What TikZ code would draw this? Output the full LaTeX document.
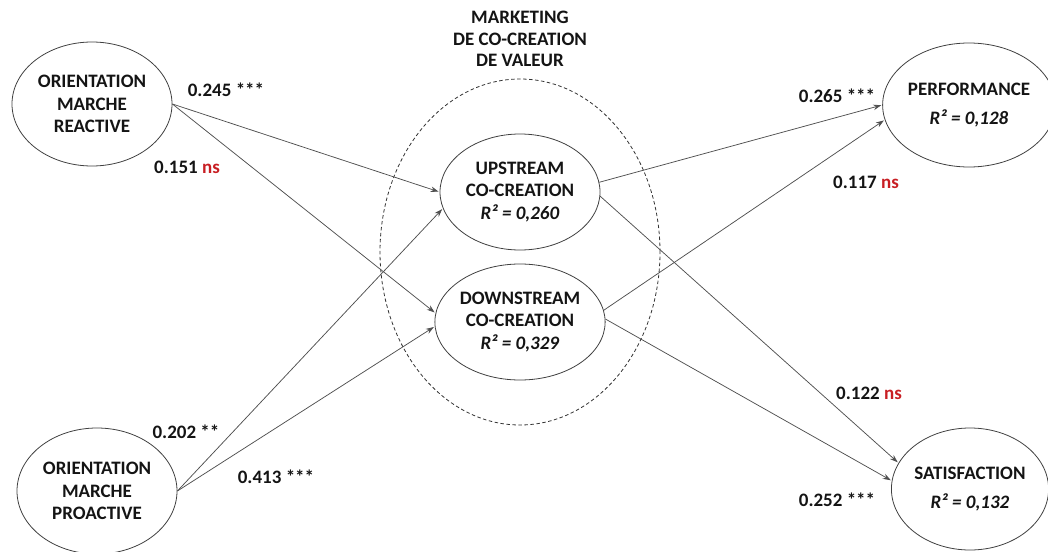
\documentclass[tikz,border=0pt]{standalone}
\usepackage{fontspec}
\setmainfont{Carlito}
\usepackage{xcolor}
\usetikzlibrary{arrows.meta,shapes.geometric}
\definecolor{nsred}{RGB}{200,30,35}
\definecolor{linegray}{RGB}{80,80,80}
\definecolor{textblack}{RGB}{20,20,20}

\begin{document}
\begin{tikzpicture}[x=1pt,y=-1pt,
	lv/.style={ellipse,draw=black!75,line width=0.8pt,inner sep=0pt,align=center,
		text=textblack,font=\fontsize{19}{22.5}\selectfont\bfseries},
	coef/.style={inner sep=0pt,text=textblack,font=\fontsize{19}{22}\selectfont\bfseries},
	pathline/.style={draw=linegray,line width=0.75pt,-{Stealth[length=8pt,width=5.5pt]},shorten >=1pt}]
				\useasboundingbox (0,0) rectangle (1048,551);
				
				% co-creation group
				\node[align=center,inner sep=0pt,text=textblack,font=\fontsize{19}{21.5}\selectfont\bfseries]
					(title) at (520,39) {MARKETING\\DE CO-CREATION\\DE VALEUR};
				\node[ellipse,draw=black!80,line width=0.8pt,dash pattern=on 3.5pt off 2.5pt,
					minimum width=280pt,minimum height=346pt] (mkt) at (520,252) {};
				
				% latent variables
				\node[lv,minimum width=160pt,minimum height=124pt] (react) at (92,104)
					{ORIENTATION\\MARCHE\\REACTIVE};
				\node[lv,minimum width=160pt,minimum height=126pt] (proact) at (97,491)
					{ORIENTATION\\MARCHE\\PROACTIVE};
				\node[lv,minimum width=160pt,minimum height=116pt] (up) at (520,192)
					{UPSTREAM\\CO-CREATION\\\textit{R² = 0,260}};
				\node[lv,minimum width=160pt,minimum height=116pt] (down) at (520,322)
					{DOWNSTREAM\\CO-CREATION\\\textit{R² = 0,329}};
				\node[lv,minimum width=152pt,minimum height=124pt] (perf) at (969,105)
					{PERFORMANCE\\[7pt]\textit{R² = 0,128}};
				\node[lv,minimum width=152pt,minimum height=122pt] (sat) at (970,489)
					{SATISFACTION\\[7pt]\textit{R² = 0,132}};
				
				% paths
				\foreach \x/\y in
				{react.east/up.180, proact.east/up.192, react.east/down.174, proact.east/down.183,
				 up.7/perf.180, down.8/perf.190, up.-3/sat.160, down.2/sat.174}{
					\draw[pathline] (\x) -- (\y);
				}
				
				% coefficients
				\node[coef] (c1) at (226,90) {0.245 ***};
				\node[coef] (c2) at (187,167) {0.151 \textcolor{nsred}{ns}};
				\node[coef] (c3) at (186,432) {0.202 **};
				\node[coef] (c4) at (276,477) {0.413 ***};
				\node[coef] (c5) at (837,96) {0.265 ***};
				\node[coef] (c6) at (866,182) {0.117 \textcolor{nsred}{ns}};
				\node[coef] (c7) at (869,393) {0.122 \textcolor{nsred}{ns}};
				\node[coef] (c8) at (837,500) {0.252 ***};
			\end{tikzpicture}
\end{document}
